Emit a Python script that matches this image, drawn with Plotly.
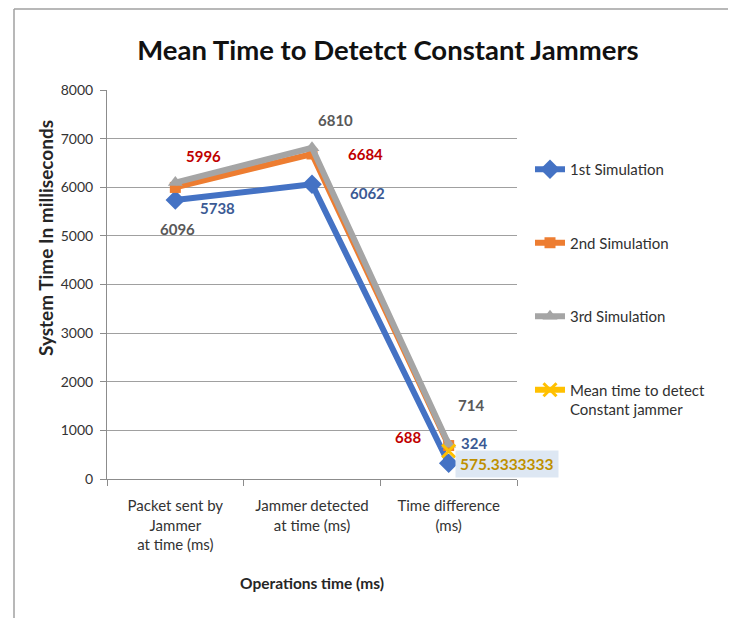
import plotly.graph_objects as go

categories = ["Packet sent by<br>Jammer<br>at time (ms)",
              "Jammer detected<br>at time (ms)",
              "Time difference<br>(ms)"]
sim1 = [5738, 6062, 324]
sim2 = [5996, 6684, 688]
sim3 = [6096, 6810, 714]
mean_vals = [None, None, 575.3333333]
series_names = ["1st Simulation", "2nd Simulation", "3rd Simulation",
                "Mean time to detect<br>Constant jammer"]
y_ticks = [0, 1000, 2000, 3000, 4000, 5000, 6000, 7000, 8000]

FONT = "Lato"
# page body has an 8px margin: figure is offset by (8, 8) in the window
W, H = 728, 610
L, R, T, B = 99, 219, 82, 139
PW, PH = W - L - R, H - T - B


def px(X):  # window x -> paper x
    return (X - 8 - L) / PW


def py(Y):  # window y -> paper y
    return (H - B - (Y - 8)) / PH


fig = go.Figure()
styles = [
    ("#4472C4", "diamond", 15),
    ("#ED7D31", "square", 11),
    ("#A5A5A5", "triangle-up", 13),
    ("#FFC000", "x-thin", 13),
]
for i, (vals, name) in enumerate(zip([sim1, sim2, sim3, mean_vals], series_names)):
    col, sym, sz = styles[i]
    fig.add_trace(go.Scatter(
        x=categories, y=vals, name=name, mode="lines+markers",
        line=dict(color=col, width=6),
        marker=dict(symbol=sym, size=sz, color=col,
                    line=dict(color=col, width=3 if sym == "x-thin" else 0)),
        legendgroup=str(i),
    ))

# data labels: (series values, color, list of (xshift, yshift))
label_specs = [
    (sim1, "#3B5A94", [(42, -8), (55, -9), (25, 20)]),
    (sim2, "#C00000", [(28, 31), (53, 0), (-41, 9)]),
    (sim3, "#595959", [(2, -46), (23, 28), (22, 39)]),
]
for vals, col, shifts in label_specs:
    for cat, v, (dx, dy) in zip(categories, vals, shifts):
        fig.add_annotation(x=cat, y=v, text=f"<b>{v}</b>", showarrow=False,
                           xshift=dx, yshift=dy,
                           font=dict(family=FONT, size=15, color=col))
fig.add_annotation(x=categories[2], y=mean_vals[2], text=f"<b>{mean_vals[2]}</b>",
                   showarrow=False, xanchor="left", xshift=6, yshift=-13,
                   bgcolor="#DDE7F3", borderpad=4,
                   font=dict(family=FONT, size=15.5, color="#BF9000"))

# axis titles
fig.add_annotation(xref="paper", yref="paper", x=px(45), y=py(238),
                   text="<b>System Time In milliseconds</b>", textangle=-90,
                   showarrow=False, xanchor="center", yanchor="middle",
                   font=dict(family=FONT, size=19, color="#262626"))
fig.add_annotation(xref="paper", yref="paper", x=px(312), y=py(583),
                   text="<b>Operations time (ms)</b>",
                   showarrow=False, xanchor="center", yanchor="middle",
                   font=dict(family=FONT, size=15.5, color="#262626"))

# outer frame (top and left edges)
fig.add_shape(type="line", xref="paper", yref="paper", x0=px(14), x1=px(740),
              y0=py(9), y1=py(9), line=dict(color="#A0A0A0", width=1.5))
fig.add_shape(type="line", xref="paper", yref="paper", x0=px(14), x1=px(14),
              y0=py(9), y1=py(620), line=dict(color="#A0A0A0", width=1.5))

fig.update_layout(
    width=W, height=H,
    margin=dict(l=L, r=R, t=T, b=B, autoexpand=False),
    paper_bgcolor="white", plot_bgcolor="white",
    font=dict(family=FONT, size=13, color="#404040"),
    title=dict(text="<b>Mean Time to Detetct Constant Jammers</b>",
               xref="paper", x=px(388), xanchor="center",
               yref="container", y=1 - 42 / H, yanchor="middle",
               font=dict(family=FONT, size=27.5, color="#111111")),
    showlegend=True,
    legend=dict(x=px(530), xanchor="left", y=py(153), yanchor="top",
                tracegroupgap=51, valign="top",
                font=dict(family=FONT, size=15, color="#303030"),
                bgcolor="rgba(0,0,0,0)", itemwidth=30),
)
fig.update_xaxes(
    type="category", range=[-0.5, 2.5], automargin=False,
    showline=True, linecolor="#8C8C8C", linewidth=1,
    ticks="outside", tickson="boundaries", ticklen=6, tickcolor="#8C8C8C",
    ticklabelstandoff=13,
    showgrid=False, tickfont=dict(family=FONT, size=15, color="#333333"),
)
fig.update_yaxes(
    range=[0, 8000], tickvals=y_ticks, automargin=False,
    showline=True, linecolor="#8C8C8C",
    linewidth=1, ticks="outside", ticklen=6, tickcolor="#8C8C8C",
    ticklabelstandoff=4,
    showgrid=True, gridcolor="#A0A0A0", gridwidth=1, zeroline=False,
    tickfont=dict(family=FONT, size=14, color="#333333"),
)

fig.write_html("out.html")
